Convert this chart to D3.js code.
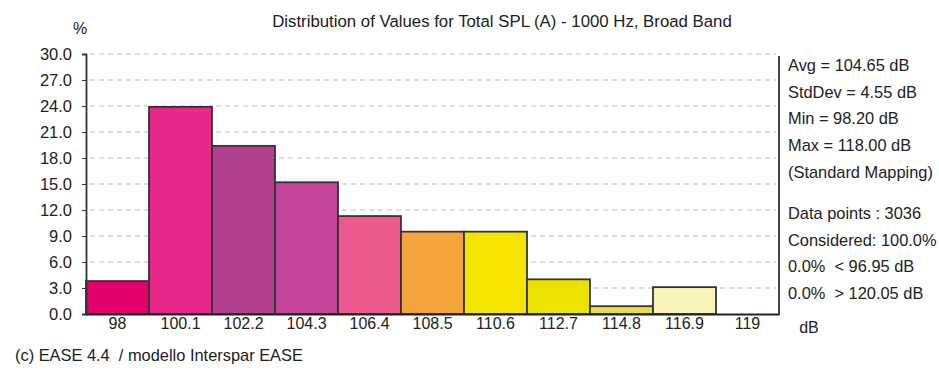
<!DOCTYPE html>
<html>
<head>
<meta charset="utf-8">
<script src="https://cdn.jsdelivr.net/npm/d3@7/dist/d3.min.js"></script>
<style>
  html, body { margin: 0; padding: 0; background: #fff; }
  svg { display: block; font-family: "Liberation Sans", "DejaVu Sans", sans-serif; }
  text { fill: #222; }
</style>
</head>
<body>
<svg id="chart" width="939" height="372"></svg>
<script>
// Histogram bins (dB) and share of data points per bin (%)
const binLabels = ["98", "100.1", "102.2", "104.3", "106.4", "108.5", "110.6", "112.7", "114.8", "116.9", "119"];
const binPercent = [3.8, 23.9, 19.4, 15.2, 11.3, 9.5, 9.5, 4.0, 0.9, 3.1, 0.0];
const binColors = ["#e4006b", "#e62888", "#b3408f", "#c4449a", "#ec5a8e", "#f4a43c", "#f5e400", "#ebe200", "#e8dc4a", "#f8f3b8", "#f8f3b8"];
const yTicks = [0, 3, 6, 9, 12, 15, 18, 21, 24, 27, 30];
const statsTop = ["Avg = 104.65 dB", "StdDev = 4.55 dB", "Min = 98.20 dB", "Max = 118.00 dB", "(Standard Mapping)"];
const statsBottom = ["Data points : 3036", "Considered: 100.0%", "0.0%  < 96.95 dB", "0.0%  > 120.05 dB"];

const svg = d3.select("#chart");
const plotLeft = 86, plotRight = 779, plotTop = 54, plotBottom = 314;

const x = d3.scaleBand().domain(binLabels).range([plotLeft, plotRight]).padding(0);
const y = d3.scaleLinear().domain([0, 30]).range([plotBottom, plotTop]);

// Title and unit labels
svg.append("text").attr("x", 502).attr("y", 27).attr("text-anchor", "middle")
  .style("font-size", "16.8px").text("Distribution of Values for Total SPL (A) - 1000 Hz, Broad Band");
svg.append("text").attr("x", 80).attr("y", 34).attr("text-anchor", "middle")
  .style("font-size", "16px").text("%");
svg.append("text").attr("x", 809).attr("y", 333).attr("text-anchor", "middle")
  .style("font-size", "16px").text("dB");

// Dashed grid lines
svg.append("g").selectAll("line").data(yTicks.filter(d => d > 0)).join("line")
  .attr("x1", plotLeft + 4).attr("x2", plotRight - 3)
  .attr("y1", d => y(d)).attr("y2", d => y(d))
  .attr("stroke", "#bdbdbd").attr("stroke-width", 1.2).attr("stroke-dasharray", "5,4");

// Bars
svg.append("g").selectAll("rect").data(binLabels).join("rect")
  .attr("x", d => x(d))
  .attr("y", (d, i) => y(binPercent[i]))
  .attr("width", x.bandwidth())
  .attr("height", (d, i) => y(0) - y(binPercent[i]))
  .attr("fill", (d, i) => binColors[i])
  .attr("stroke", "#333").attr("stroke-width", 1.8);

// Left axis
const yAxis = d3.axisLeft(y).tickValues(yTicks).tickFormat(d3.format(".1f")).tickSize(4).tickPadding(10);
const gy = svg.append("g").attr("transform", `translate(${plotLeft},0)`).call(yAxis);
gy.select(".domain").attr("stroke", "#333").attr("stroke-width", 1.8);
gy.selectAll(".tick line").attr("stroke", "#333");
gy.selectAll(".tick text").style("font-size", "16.5px").attr("fill", "#222");

// Bottom axis
const xAxis = d3.axisBottom(x).tickSize(0).tickPadding(4);
const gx = svg.append("g").attr("transform", `translate(0,${plotBottom})`).call(xAxis);
gx.select(".domain").attr("stroke", "#222").attr("stroke-width", 2);
gx.selectAll(".tick text").style("font-size", "16px").attr("fill", "#222");

// Right frame line
svg.append("line").attr("x1", plotRight).attr("x2", plotRight).attr("y1", plotTop + 2).attr("y2", plotBottom + 1)
  .attr("stroke", "#333").attr("stroke-width", 1.8);

// Statistics panel
const statsG = svg.append("g").style("font-size", "16.4px");
statsG.selectAll("text.top").data(statsTop).join("text").attr("class", "top")
  .attr("x", 788).attr("y", (d, i) => 71 + i * 26.7).text(d => d);
statsG.selectAll("text.bot").data(statsBottom).join("text").attr("class", "bot")
  .attr("x", 788).attr("y", (d, i) => 219 + i * 26.5).attr("xml:space", "preserve").text(d => d);

// Footer
svg.append("text").attr("x", 15).attr("y", 361).style("font-size", "16.4px")
  .attr("xml:space", "preserve").text("(c) EASE 4.4  / modello Interspar EASE");
</script>
</body>
</html>
